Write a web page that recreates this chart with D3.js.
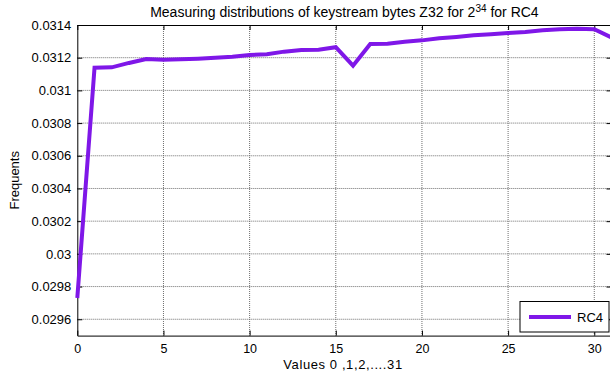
<!DOCTYPE html>
<html><head><meta charset="utf-8">
<script src="https://cdn.jsdelivr.net/npm/d3@7"></script>
<style>body{margin:0;background:#fff;} svg{display:block;font-family:"Liberation Sans",Arial,sans-serif;}</style>
</head><body>
<script>
const xValues = [0,1,2,3,4,5,6,7,8,9,10,11,12,13,14,15,16,17,18,19,20,21,22,23,24,25,26,27,28,29,30,31];
const rc4 = [0.02973,0.031139,0.031141,0.031168,0.031192,0.031188,0.031190,0.031194,0.031200,0.031206,0.031217,
  0.031221,0.031237,0.031247,0.031249,0.031264,0.031151,0.031284,0.031286,0.031298,0.031306,
  0.031319,0.031327,0.031337,0.031343,0.031351,0.031357,0.031368,0.031374,0.031377,0.031374,0.031324];
const xTicks = [0,5,10,15,20,25,30];
const yTicks = [0.0296,0.0298,0.03,0.0302,0.0304,0.0306,0.0308,0.031,0.0312,0.0314];
const yTickLabels = ["0.0296","0.0298","0.03","0.0302","0.0304","0.0306","0.0308","0.031","0.0312","0.0314"];
const seriesName = "RC4";

const W=610,H=377;
const L=77.3,R=611.5,T=25,B=335.6;
const FONT="Liberation Sans, Arial, sans-serif";
const svg=d3.select("body").append("svg").attr("width",W).attr("height",H);
const x=d3.scaleLinear().domain([0,31]).range([L,R]);
const y=d3.scaleLinear().domain([0.0295,0.0314]).range([B,T]);
const color="#7F17E8";

// grid
const g=svg.append("g");
g.selectAll(".vg").data(xTicks.filter(d=>d>0)).enter().append("line")
 .attr("x1",d=>x(d)).attr("x2",d=>x(d)).attr("y1",T).attr("y2",B)
 .attr("stroke","#6e6e6e").attr("stroke-width",1).attr("stroke-dasharray","1,1");
g.selectAll(".hg").data(yTicks.filter(d=>d<0.0314)).enter().append("line")
 .attr("x1",L).attr("x2",R).attr("y1",d=>y(d)).attr("y2",d=>y(d))
 .attr("stroke","#6e6e6e").attr("stroke-width",1).attr("stroke-dasharray","1,1");

// axes
const fmtY=(d,i)=>yTickLabels[i];
svg.append("g").attr("transform",`translate(0,${B})`)
 .call(d3.axisBottom(x).tickValues(xTicks).tickSizeInner(-5).tickSizeOuter(0).tickPadding(9).tickFormat(d3.format("d")))
 .call(a=>{a.select(".domain").attr("stroke","#000");a.selectAll("text").attr("font-size",12.5).attr("fill","#000").attr("font-family",FONT);});
svg.append("g").attr("transform",`translate(0,${T})`)
 .call(d3.axisTop(x).tickValues(xTicks).tickSizeInner(-5).tickSizeOuter(0).tickFormat(""))
 .call(a=>a.select(".domain").attr("stroke","#000"));
svg.append("g").attr("transform",`translate(${L},0)`)
 .call(d3.axisLeft(y).tickValues(yTicks).tickSizeInner(-5).tickSizeOuter(0).tickPadding(6).tickFormat(fmtY))
 .call(a=>{a.select(".domain").attr("stroke","#000");a.selectAll("text").attr("font-size",13).attr("fill","#000").attr("font-family",FONT);});
svg.append("g").attr("transform",`translate(${R},0)`)
 .call(d3.axisRight(y).tickValues(yTicks).tickSizeInner(-5).tickSizeOuter(0).tickFormat(""))
 .call(a=>a.select(".domain").attr("stroke","#000"));

// line
const line=d3.line().x((d,i)=>x(xValues[i])).y(d=>y(d));
svg.append("path").datum(rc4).attr("d",line).attr("fill","none")
 .attr("stroke",color).attr("stroke-width",4).attr("stroke-linejoin","miter");

// title
const title=svg.append("text").attr("x",(L+R)/2).attr("y",16.5).attr("text-anchor","middle")
 .attr("font-size",14).attr("fill","#000");
title.append("tspan").text("Measuring distributions of keystream bytes Z32 for 2");
title.append("tspan").attr("font-size",10).attr("dy",-5).text("34");
title.append("tspan").attr("dy",5).text(" for RC4");

// axis labels
svg.append("text").attr("x",343).attr("y",368.5).attr("text-anchor","middle")
 .attr("font-size",13).attr("letter-spacing",0.6).attr("fill","#000").text("Values 0 ,1,2,....31");
svg.append("text").attr("transform",`translate(19.3,${(T+B)/2}) rotate(-90)`).attr("text-anchor","middle")
 .attr("font-size",13).attr("fill","#000").text("Frequents");

// legend
const lg=svg.append("g");
lg.append("rect").attr("x",520).attr("y",301.5).attr("width",89).attr("height",30.5)
 .attr("fill","#fff").attr("stroke","#000").attr("stroke-width",1);
lg.append("line").attr("x1",529).attr("x2",571).attr("y1",317).attr("y2",317)
 .attr("stroke",color).attr("stroke-width",4);
lg.append("text").attr("x",577).attr("y",321.5).attr("font-size",13).attr("fill","#000").text(seriesName);
</script>
</body></html>
